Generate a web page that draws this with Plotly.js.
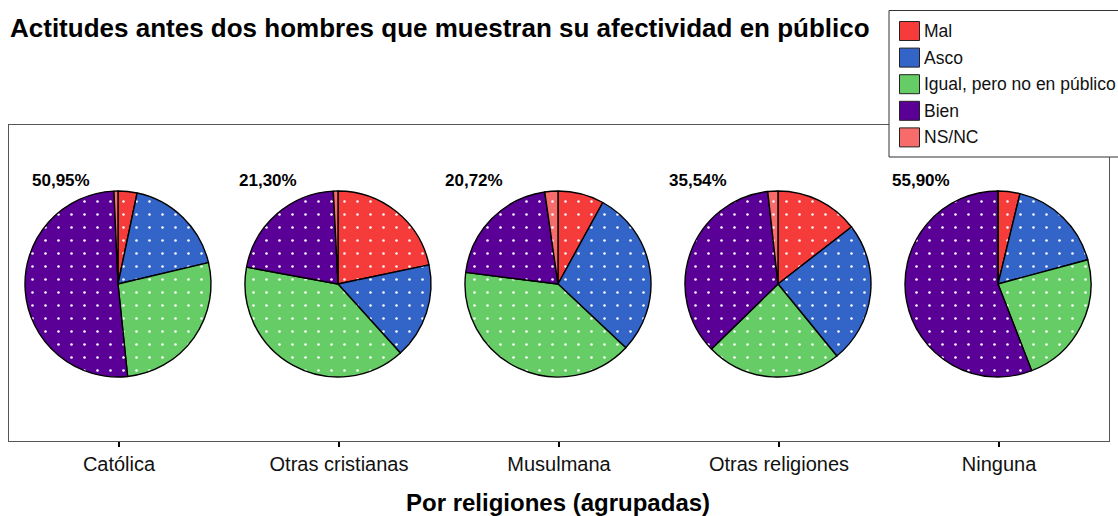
<!DOCTYPE html>
<html>
<head>
<meta charset="utf-8">
<script src="https://cdn.plot.ly/plotly-3.0.1.min.js"></script>
<style>html,body{margin:0;padding:0;background:#fff}#chart{width:1118px;height:516px}</style>
</head>
<body>
<div id="chart"></div>
<script>
// ---- data ----
const categories = ['Católica', 'Otras cristianas', 'Musulmana', 'Otras religiones', 'Ninguna'];
const labels = ['Mal', 'Asco', 'Igual, pero no en público', 'Bien', 'NS/NC'];
const mal   = [3.3, 21.7, 8.0, 14.5, 3.8];
const asco  = [18.0, 16.6, 29.0, 24.6, 17.0];
const igual = [27.05, 39.6, 40.0, 23.6, 23.3];
const bien  = [50.95, 21.30, 20.72, 35.54, 55.90];
const nsnc  = [0.7, 0.8, 2.28, 1.76, 0];
const colors = ['#F63B3B', '#3364C8', '#66CC66', '#5B0097', '#F86B6B'];

// ---- layout constants (pixels) ----
const W = 1118, H = 516;
const boxL = 9, boxR = 1109, boxT = 125, boxB = 441;
const pieCY = 284, pieR = 93;
const pctLabelX = [30, 237, 443, 667, 890];
const pctLabelY = 181;
const FONT = 'Liberation Sans, Arial, sans-serif';

const px = x => x / W;
const py = y => 1 - y / H;
const step = (boxR - boxL) / categories.length;

const traces = [];
categories.forEach((cat, i) => {
  const cx = boxL + (i + 0.5) * step - 1;
  traces.push({
    type: 'pie',
    name: cat,
    labels: labels,
    values: [mal[i], asco[i], igual[i], bien[i], nsnc[i]],
    sort: false,
    direction: 'clockwise',
    rotation: 0,
    textinfo: 'none',
    hoverinfo: 'label+percent',
    showlegend: false,
    domain: { x: [px(cx - pieR), px(cx + pieR)], y: [py(pieCY + pieR), py(pieCY - pieR)] },
    marker: {
      colors: colors,
      line: { color: '#000', width: 1.4 },
      pattern: {
        shape: labels.map(() => '.'),
        fgcolor: labels.map(() => '#ffffff'),
        bgcolor: colors,
        fillmode: 'replace',
        size: 13,
        solidity: 0.03
      }
    }
  });
});
// invisible cartesian trace to carry the category axis
traces.push({
  type: 'scatter', mode: 'markers', x: categories, y: categories.map(() => 0.5),
  marker: { opacity: 0 }, hoverinfo: 'skip', showlegend: false
});

const shapes = [];
const annotations = [];

// percentage labels (Bien)
bien.forEach((v, i) => {
  annotations.push({
    xref: 'paper', yref: 'paper', x: px(pctLabelX[i]), y: py(pctLabelY),
    xanchor: 'left', yanchor: 'middle', showarrow: false,
    text: '<b>' + v.toFixed(2).replace('.', ',') + '%</b>',
    font: { family: FONT, size: 17, color: '#000' }
  });
});

// title
annotations.push({
  xref: 'paper', yref: 'paper', x: px(8), y: py(28), xanchor: 'left', yanchor: 'middle',
  showarrow: false, text: '<b>Actitudes antes dos hombres que muestran su afectividad en público</b>',
  font: { family: FONT, size: 26, color: '#000' }
});
// axis title
annotations.push({
  xref: 'paper', yref: 'paper', x: px(558), y: py(502), xanchor: 'center', yanchor: 'middle',
  showarrow: false, text: '<b>Por religiones (agrupadas)</b>',
  font: { family: FONT, size: 24, color: '#000' }
});

// custom legend
const legL = 889, legT = 10.5, legB = 157, legGap = 26.6, legFirst = 31;
shapes.push({
  type: 'rect', xref: 'paper', yref: 'paper', layer: 'above',
  x0: px(legL), x1: px(legL + 240), y0: py(legB), y1: py(legT),
  fillcolor: '#fff', line: { color: '#333', width: 1 }
});
labels.forEach((lab, i) => {
  const cy = legFirst + i * legGap;
  shapes.push({
    type: 'rect', xref: 'paper', yref: 'paper', layer: 'above',
    x0: px(899.5), x1: px(919.5), y0: py(cy + 9.5), y1: py(cy - 9.5),
    fillcolor: colors[i], line: { color: '#222', width: 1 }
  });
  annotations.push({
    xref: 'paper', yref: 'paper', x: px(922), y: py(cy), xanchor: 'left', yanchor: 'middle',
    showarrow: false, text: lab, font: { family: FONT, size: 17.5, color: '#111' }
  });
});

const layout = {
  width: W, height: H,
  margin: { l: 0, r: 0, t: 0, b: 0 },
  paper_bgcolor: '#fff', plot_bgcolor: 'rgba(0,0,0,0)',
  showlegend: false,
  font: { family: FONT, color: '#000' },
  xaxis: {
    type: 'category', domain: [px(boxL), px(boxR)], range: [-0.5, categories.length - 0.5],
    showline: true, mirror: true, linecolor: '#555', linewidth: 1,
    ticks: 'outside', ticklen: 5, tickwidth: 2, tickcolor: '#000',
    tickfont: { family: FONT, size: 20, color: '#111' },
    showgrid: false, zeroline: false, fixedrange: true
  },
  yaxis: {
    domain: [py(boxB), py(boxT)], range: [0, 1],
    showline: true, mirror: true, linecolor: '#555', linewidth: 1,
    showticklabels: false, ticks: '', showgrid: false, zeroline: false, fixedrange: true
  },
  shapes: shapes,
  annotations: annotations
};

Plotly.newPlot('chart', traces, layout, { displayModeBar: false, staticPlot: true });
</script>
</body>
</html>
